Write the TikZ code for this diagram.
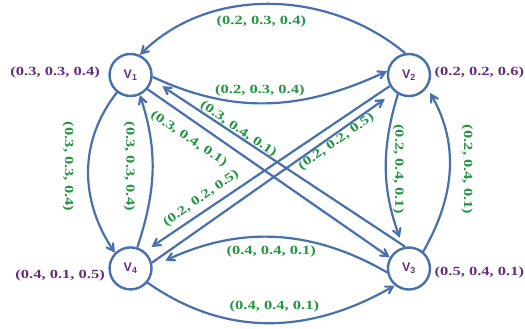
\documentclass[tikz,border=0pt]{standalone}
\usepackage{fontspec}
\newfontfamily\lblfont[FakeStretch=1.32]{Liberation Serif}
\newfontfamily\vfont{Liberation Sans}
\usetikzlibrary{matrix,arrows,positioning}
\definecolor{eblue}{RGB}{72,112,172}
\definecolor{lgreen}{RGB}{34,150,64}
\definecolor{vpurple}{RGB}{104,44,124}

\tikzset{
  vert/.style={circle, draw=eblue, line width=2.4pt, minimum size=42pt, inner sep=0pt,
    text=vpurple, font=\vfont\bfseries\fontsize{12.5}{14}\selectfont},
  lbl/.style={text=lgreen, font=\lblfont\bfseries\fontsize{12.5}{14}\selectfont},
  tup/.style={text=vpurple, font=\lblfont\bfseries\fontsize{12.5}{14}\selectfont}
}

\begin{document}
\begin{tikzpicture}[x=1pt, y=1pt, >=angle 60]
  \useasboundingbox (0,0) rectangle (525,329);
  \matrix (v) [matrix of nodes, nodes={vert}, row sep=149pt, column sep=234pt] at (269.75,157.25)
  {
    V\textsubscript{1} & V\textsubscript{2} \\
    V\textsubscript{4} & V\textsubscript{3} \\
  };
  \node[tup, left=5pt of v-1-1, yshift=2pt] (t1) {(0.3, 0.3, 0.4)};
  \node[tup, right=0pt of v-1-2, yshift=3pt] (t2) {(0.2, 0.2, 0.6)};
  \node[tup, left=0pt of v-2-1, yshift=-7pt] (t4) {(0.4, 0.1, 0.5)};
  \node[tup, right=0pt of v-2-2, yshift=-4pt] (t3) {(0.5, 0.4, 0.1)};
  \path[->, eblue, line width=2.2pt]
  (v-1-2.100) edge[out=140, in=45, looseness=.95] node[lbl, below=7pt, xshift=-9pt] {(0.2, 0.3, 0.4)} (v-1-1.65)
  (v-1-1.-5) edge[out=-25, in=205] node[lbl, above=3pt, xshift=-10pt] {(0.2, 0.3, 0.4)} (v-1-2.170)
  (v-1-1.-40) edge node[lbl, pos=.17, yshift=-21pt, rotate=-34] {(0.3, 0.4, 0.1)} (v-2-2.150)
  (v-2-2.100) edge[shorten >=12pt] node[lbl, pos=.66, yshift=7pt, rotate=-34] {(0.3, 0.4, 0.1)} (v-1-1.-12)
  (v-1-2.-150) edge[shorten >=8pt] node[lbl, pos=.77, yshift=15pt, rotate=35] {(0.2, 0.2, 0.5)} (v-2-1.50)
  (v-2-1.15) edge[shorten >=12pt] node[lbl, pos=.76, yshift=-9pt, rotate=35] {(0.2, 0.2, 0.5)} (v-1-2.-130)
  (v-1-1.-128) edge[out=-128, in=124] node[lbl, xshift=-20pt, yshift=5pt, rotate=-90] {(0.3, 0.3, 0.4)} (v-2-1.135)
  (v-2-1.72) edge[out=72, in=-72] node[lbl, xshift=-23pt, yshift=5pt, rotate=-90] {(0.3, 0.3, 0.4)} (v-1-1.-65)
  (v-1-2.-120) edge[out=-107, in=110, shorten >=10pt] node[lbl, xshift=12pt, yshift=2pt, rotate=-90] {(0.2, 0.4, 0.1)} (v-2-2.105)
  (v-2-2.50) edge[out=60, in=-60, shorten >=6pt] node[lbl, xshift=18pt, rotate=-90] {(0.2, 0.4, 0.1)} (v-1-2.-35)
  (v-2-2.190) edge[out=150, in=25, shorten >=14pt] node[lbl, below=4pt] {(0.4, 0.4, 0.1)} (v-2-1.5)
  (v-2-1.-40) edge[out=-35, in=-150] node[lbl, above=6pt, xshift=5pt] {(0.4, 0.4, 0.1)} (v-2-2.-130)
  ;
\end{tikzpicture}
\end{document}
